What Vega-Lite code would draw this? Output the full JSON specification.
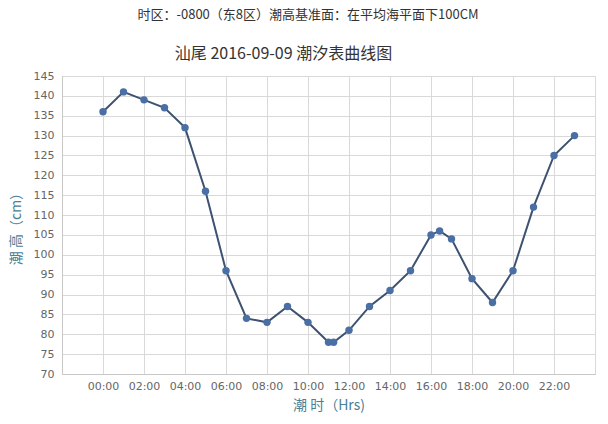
{
  "$schema": "https://vega.github.io/schema/vega-lite/v6.json",
  "background": "white",
  "padding": {"left": 8, "top": 8, "right": 10, "bottom": 5},
  "title": {
    "text": "时区：-0800（东8区）潮高基准面：在平均海平面下100CM",
    "font": "Noto Sans CJK SC",
    "fontSize": 13,
    "fontWeight": "normal",
    "color": "#333333",
    "anchor": "middle",
    "dx": 6,
    "offset": 24
  },
  "config": {
    "view": {"stroke": "#d0d0d0"},
    "axis": {
      "labelFont": "DejaVu Sans",
      "labelFontSize": 11,
      "labelColor": "#666666",
      "gridColor": "#d9d9d9",
      "domainColor": "#c8c8c8",
      "ticks": false,
      "titleFont": "Noto Sans CJK SC",
      "titleFontSize": 14,
      "titleFontWeight": "normal",
      "titleColor": "#4a8096"
    }
  },
  "vconcat": [
    {
      "width": 533,
      "height": 298,
      "title": {
        "text": "汕尾 2016-09-09 潮汐表曲线图",
        "font": "Noto Sans CJK SC",
        "fontSize": 16,
        "fontWeight": "normal",
        "color": "#333333",
        "anchor": "middle",
        "dx": -45,
        "offset": 8
      },
      "data": {
        "values": [
          {"hour": 0, "height": 136},
          {"hour": 1, "height": 141},
          {"hour": 2, "height": 139},
          {"hour": 3, "height": 137},
          {"hour": 4, "height": 132},
          {"hour": 5, "height": 116},
          {"hour": 6, "height": 96},
          {"hour": 7, "height": 84},
          {"hour": 8, "height": 83},
          {"hour": 9, "height": 87},
          {"hour": 10, "height": 83},
          {"hour": 11, "height": 78},
          {"hour": 11.25, "height": 78},
          {"hour": 12, "height": 81},
          {"hour": 13, "height": 87},
          {"hour": 14, "height": 91},
          {"hour": 15, "height": 96},
          {"hour": 16, "height": 105},
          {"hour": 16.42, "height": 106},
          {"hour": 17, "height": 104},
          {"hour": 18, "height": 94},
          {"hour": 19, "height": 88},
          {"hour": 20, "height": 96},
          {"hour": 21, "height": 112},
          {"hour": 22, "height": 125},
          {"hour": 23, "height": 130}
        ]
      },
      "encoding": {
        "x": {
          "field": "hour",
          "type": "quantitative",
          "scale": {"domain": [-2, 24], "nice": false, "zero": false},
          "axis": {
            "values": [-2, 0, 2, 4, 6, 8, 10, 12, 14, 16, 18, 20, 22, 24],
            "labelExpr": "datum.value < 0 || datum.value > 22 ? '' : (datum.value < 10 ? '0' : '') + datum.value + ':00'",
            "labelPadding": 6,
            "title": "潮 时（Hrs)",
            "titlePadding": 7
          }
        },
        "y": {
          "field": "height",
          "type": "quantitative",
          "scale": {"domain": [70, 145], "nice": false, "zero": false},
          "axis": {
            "values": [70, 75, 80, 85, 90, 95, 100, 105, 110, 115, 120, 125, 130, 135, 140, 145],
            "labelPadding": 8,
            "title": "潮 高（cm）",
            "titlePadding": 10
          }
        }
      },
      "layer": [
        {
          "mark": {"type": "line", "color": "#3d5270", "strokeWidth": 2}
        },
        {
          "mark": {"type": "point", "filled": true, "opacity": 1, "size": 55, "color": "#4a6fa5"}
        }
      ]
    }
  ]
}
